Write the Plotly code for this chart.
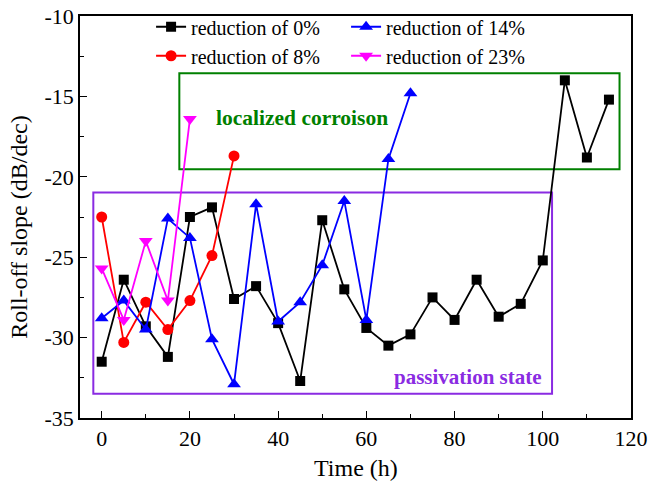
import plotly.graph_objects as go

t0 = [0, 5, 10, 15, 20, 25, 30, 35, 40, 45, 50, 55, 60, 65, 70, 75, 80, 85, 90, 95, 100, 105, 110, 115]
y0 = [-31.5, -26.4, -29.3, -31.2, -22.5, -21.9, -27.6, -26.8, -29.1, -32.7, -22.7, -27.0, -29.4, -30.5,
      -29.8, -27.5, -28.9, -26.4, -28.7, -27.9, -25.2, -14.0, -18.8, -15.2]
t8 = [0, 5, 10, 15, 20, 25, 30]
y8 = [-22.5, -30.3, -27.8, -29.5, -27.7, -24.9, -18.7]
t14 = [0, 5, 10, 15, 20, 25, 30, 35, 40, 45, 50, 55, 60, 65, 70]
y14 = [-28.8, -27.7, -29.5, -22.6, -23.8, -30.1, -32.9, -21.7, -29.0, -27.8, -25.5, -21.5, -28.9, -18.9, -14.8]
t23 = [0, 5, 10, 15, 20]
y23 = [-25.7, -28.9, -24.0, -27.7, -16.4]

x_tickvals = [0, 20, 40, 60, 80, 100, 120]
x_ticktext = ["0", "20", "40", "60", "80", "100", "120"]
y_tickvals = [-35, -30, -25, -20, -15, -10]
y_ticktext = ["-35", "-30", "-25", "-20", "-15", "-10"]

FONT = "Liberation Serif, Times New Roman, serif"

fig = go.Figure()
fig.add_trace(go.Scatter(x=t0, y=y0, name="reduction of 0%", mode="lines+markers",
                         line=dict(color="black", width=1.8),
                         marker=dict(symbol="square", size=10, color="black"), legendrank=1))
fig.add_trace(go.Scatter(x=t8, y=y8, name="reduction of 8%", mode="lines+markers",
                         line=dict(color="#ff0000", width=1.8),
                         marker=dict(symbol="circle", size=11, color="#ff0000"), legendrank=3))
fig.add_trace(go.Scatter(x=t14, y=y14, name="reduction of 14%", mode="lines+markers",
                         line=dict(color="#0000ff", width=1.8),
                         marker=dict(symbol="triangle-up", size=12, color="#0000ff"), legendrank=2))
fig.add_trace(go.Scatter(x=t23, y=y23, name="reduction of 23%", mode="lines+markers",
                         line=dict(color="#ff00ff", width=1.8),
                         marker=dict(symbol="triangle-down", size=12, color="#ff00ff"), legendrank=4))

fig.add_shape(type="rect", x0=17.6, x1=117.4, y0=-19.53, y1=-13.56,
              line=dict(color="#008000", width=2), layer="below")
fig.add_shape(type="rect", x0=-1.9, x1=102.1, y0=-33.49, y1=-20.98,
              line=dict(color="#8A2BE2", width=2), layer="below")
fig.add_annotation(x=45.5, y=-16.36, text="<b>localized corroison</b>", showarrow=False,
                   font=dict(family=FONT, size=21.5, color="#008000"))
fig.add_annotation(x=83, y=-32.42, text="<b>passivation state</b>", showarrow=False,
                   font=dict(family=FONT, size=21, color="#8A2BE2"))

# axis titles
fig.add_annotation(xref="paper", yref="paper", x=0.501, y=-0.124, xanchor="center", yanchor="middle",
                   text="Time (h)", showarrow=False, font=dict(family=FONT, size=24, color="black"))
fig.add_annotation(xref="paper", yref="paper", x=-0.1108, y=0.4755, xanchor="center", yanchor="middle",
                   text="Roll-off slope (dB/dec)", textangle=-90, showarrow=False,
                   font=dict(family=FONT, size=24, color="black"))

axis_common = dict(showline=True, linecolor="black", linewidth=1.5, mirror=True,
                   ticks="inside", ticklen=7, tickwidth=1.2, tickcolor="black",
                   showgrid=False, zeroline=False, automargin=False,
                   tickfont=dict(family=FONT, size=22, color="black"))
fig.update_xaxes(range=[-4.92, 120], tickmode="array", tickvals=x_tickvals, ticktext=x_ticktext,
                 minor=dict(dtick=10, tick0=0, ticks="inside", ticklen=4, tickcolor="black", showgrid=False),
                 **axis_common)
fig.update_yaxes(range=[-35, -10], tickmode="array", tickvals=y_tickvals, ticktext=y_ticktext,
                 minor=dict(dtick=2.5, tick0=-35, ticks="inside", ticklen=4, tickcolor="black", showgrid=False),
                 **axis_common)

fig.update_layout(
    width=648, height=484,
    margin=dict(l=80, r=17, t=16, b=66, autoexpand=False),
    paper_bgcolor="white", plot_bgcolor="white",
    font=dict(family=FONT, color="black"),
    legend=dict(orientation="h", x=0.129, y=0.985, xanchor="left", yanchor="top",
                yref="container",
                entrywidth=150, entrywidthmode="pixels",
                font=dict(family=FONT, size=20, color="black"),
                bgcolor="rgba(0,0,0,0)", tracegroupgap=0),
)
fig.write_html("out.html")
